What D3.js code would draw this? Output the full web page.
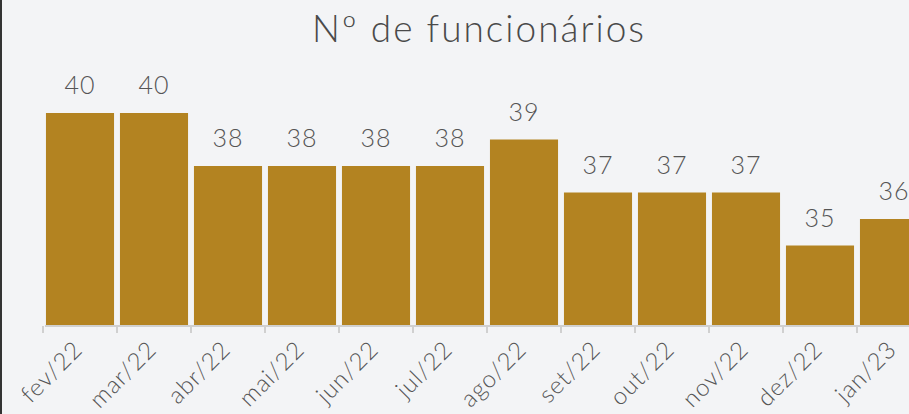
<!DOCTYPE html>
<html>
<head>
<meta charset="utf-8">
<script src="https://cdn.jsdelivr.net/npm/d3@7"></script>
<style>
    html, body { margin: 0; padding: 0; background: #f3f4f6; overflow: hidden; }
    body { border-left: 2px solid #333; width: 907px; height: 414px; }
    text { font-family: Lato, "Open Sans", sans-serif; font-weight: 300; fill: #555; }
</style>
</head>
<body>
<div id="chart"></div>
<script>
    "use strict";

    var months = ["fev/22", "mar/22", "abr/22", "mai/22", "jun/22", "jul/22",
        "ago/22", "set/22", "out/22", "nov/22", "dez/22", "jan/23"];
    var employees = [40, 40, 38, 38, 38, 38, 39, 37, 37, 37, 35, 36];
    var yDomain = [32, 42];

    var width = 907, height = 414,
        left = 41, bandStep = 74, baseline = 325;

    var svg = d3.select("#chart").append("svg")
        .attr("width", width)
        .attr("height", height);

    var x = d3.scaleBand()
        .domain(months)
        .range([left, left + bandStep * months.length])
        .paddingInner(0.08)
        .paddingOuter(0.04);

    var y = d3.scaleLinear()
        .domain(yDomain)
        .range([baseline, baseline - 265]);

    // Title
    svg.append("text")
        .attr("x", 477)
        .attr("y", 42)
        .attr("text-anchor", "middle")
        .style("font-size", "37px")
        .style("letter-spacing", "2px")
        .style("fill", "#4a4a4a")
        .text("Nº de funcionários");

    // Bars
    svg.selectAll(".bar")
        .data(employees)
        .enter()
        .append("rect")
        .attr("class", "bar")
        .attr("x", function (d, i) { return x(months[i]); })
        .attr("y", function (d) { return y(d); })
        .attr("width", x.bandwidth())
        .attr("height", function (d) { return baseline - y(d); })
        .attr("fill", "#b38321");

    // Value labels
    svg.selectAll(".value")
        .data(employees)
        .enter()
        .append("text")
        .attr("class", "value")
        .attr("x", function (d, i) { return x(months[i]) + x.bandwidth() / 2; })
        .attr("y", function (d) { return y(d) - 19; })
        .attr("text-anchor", "middle")
        .style("font-size", "25px")
        .style("letter-spacing", "1px")
        .text(function (d) { return d; });

    // Axis
    var axisGroup = svg.append("g")
        .attr("transform", "translate(0," + (baseline + 1) + ")");

    axisGroup.append("line")
        .attr("x1", left + 2).attr("x2", left + bandStep * months.length)
        .attr("stroke", "#d0d0d0").attr("stroke-width", 2);

    axisGroup.selectAll(".tick")
        .data(months)
        .enter()
        .append("line")
        .attr("class", "tick")
        .attr("x1", function (d) { return x(d) - x.step() * x.paddingInner() / 2; })
        .attr("x2", function (d) { return x(d) - x.step() * x.paddingInner() / 2; })
        .attr("y1", 0).attr("y2", 7)
        .attr("stroke", "#d0d0d0").attr("stroke-width", 2);

    axisGroup.selectAll(".label")
        .data(months)
        .enter()
        .append("text")
        .attr("class", "label")
        .attr("text-anchor", "end")
        .attr("transform", function (d) {
            return "translate(" + (x(d) + x.bandwidth() / 2 + 4) + ",25) rotate(-45)";
        })
        .style("font-size", "24px")
        .style("letter-spacing", "1px")
        .text(function (d) { return d; });
</script>
</body>
</html>
